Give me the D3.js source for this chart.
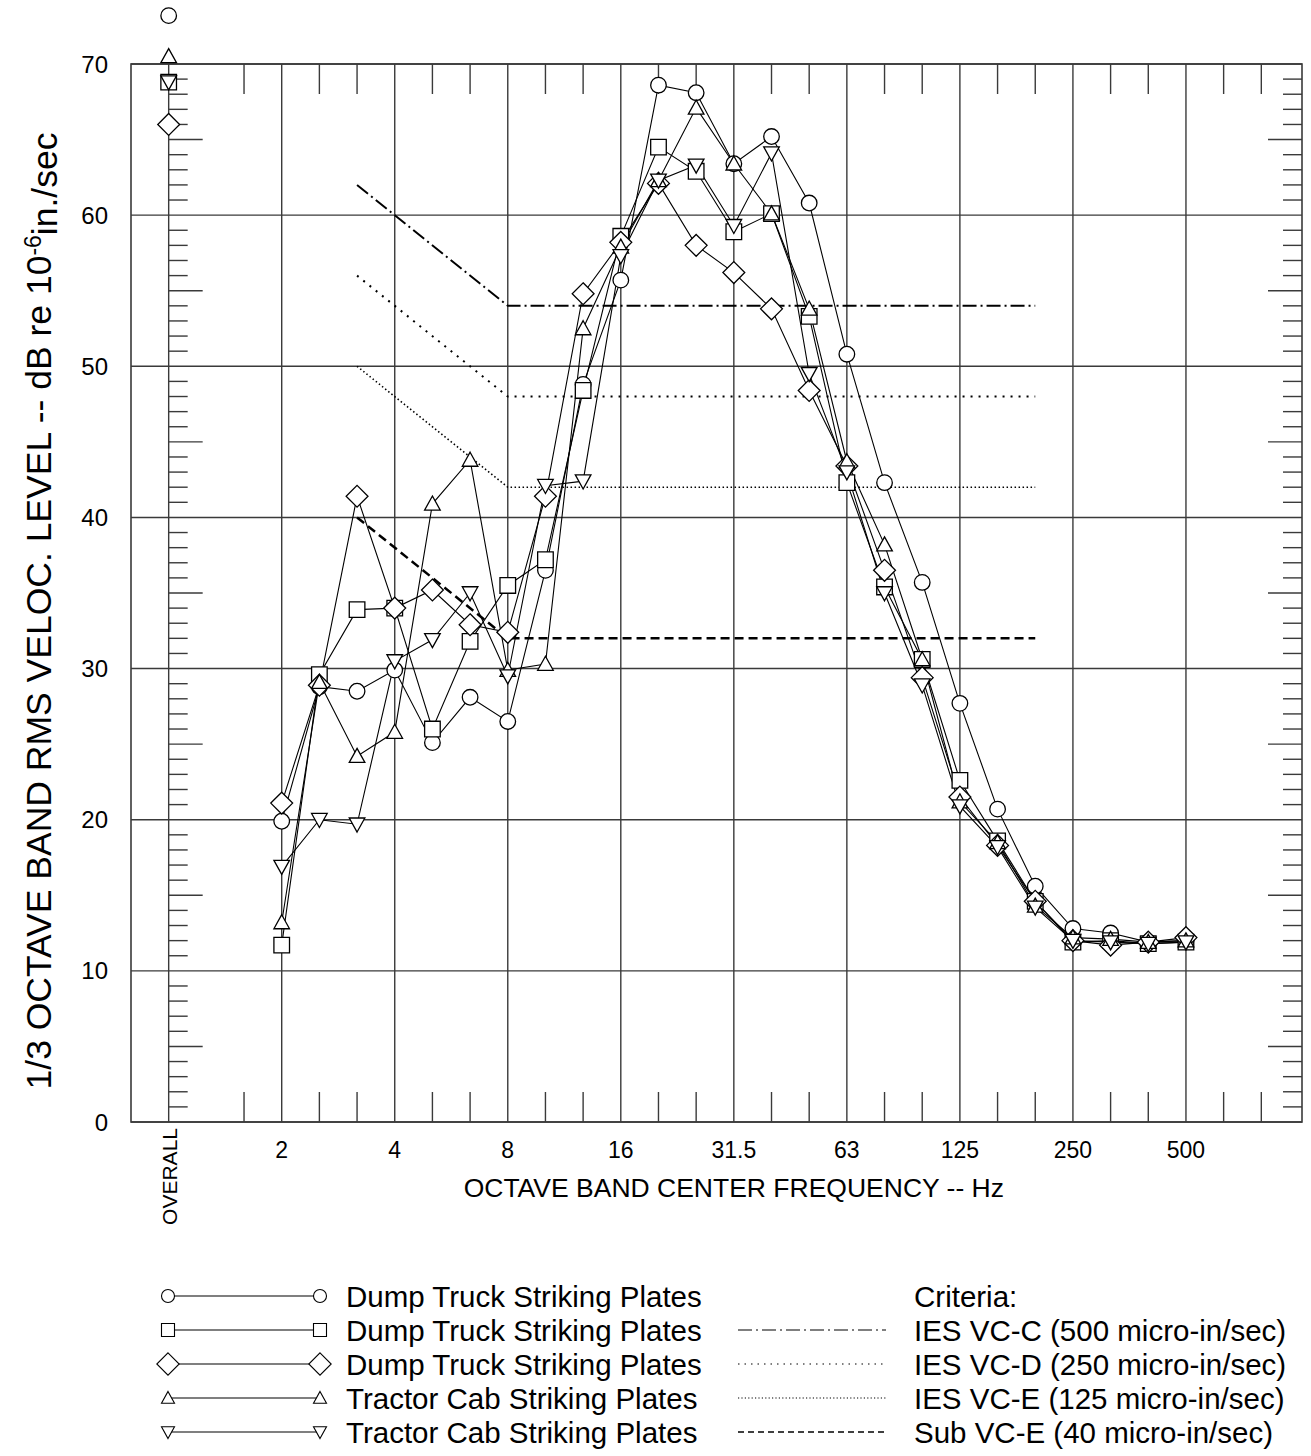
<!DOCTYPE html>
<html>
<head>
<meta charset="utf-8">
<script src="https://cdn.jsdelivr.net/npm/d3@7"></script>
<style>
  body { margin: 0; background: #fff; }
  svg text { font-family: "Liberation Sans", Arial, sans-serif; fill: #000; }
</style>
</head>
<body>
<div id="chart"></div>
<script>
// 1/3 octave band centres (Hz), plotted one step apart
var bands = ["2","2.5","3.15","4","5","6.3","8","10","12.5","16","20","25","31.5","40","50","63","80","100","125","160","200","250","315","400","500"];
var octaveLabels = ["2","4","8","16","31.5","63","125","250","500"];
var yTicks = [0,10,20,30,40,50,60,70];

var seriesNames = ["Dump Truck Striking Plates","Dump Truck Striking Plates","Dump Truck Striking Plates","Tractor Cab Striking Plates","Tractor Cab Striking Plates"];
var seriesSymbols = ["circle","square","diamond","triUp","triDown"];
var overallValues = [73.2, 68.8, 66.0, 70.5, 68.8];

var dumpTruckA = [19.9,28.8,28.5,29.9,25.1,28.1,26.5,36.5,48.8,55.7,68.6,68.1,63.4,65.2,60.8,50.8,42.3,35.7,27.7,20.7,15.6,12.8,12.5,11.9,12.0];
var dumpTruckB = [11.7,29.6,33.9,34.0,26.0,31.8,35.5,37.2,48.4,58.6,64.5,62.9,58.9,60.1,53.3,42.3,35.4,30.6,22.6,18.6,14.6,11.9,12.0,11.8,11.9];
var dumpTruckC = [21.1,28.9,41.4,34.0,35.2,32.9,32.4,41.4,54.8,58.2,62.1,58.0,56.2,53.8,48.4,43.4,36.5,29.4,21.5,18.3,14.6,12.0,11.7,11.9,12.2];
var tractorCabA = [13.2,29.1,24.2,25.8,40.9,43.8,29.9,30.3,52.5,57.9,62.3,67.1,63.4,60.1,53.8,43.7,38.2,30.6,21.2,18.5,14.3,12.2,12.1,11.9,12.0];
var tractorCabB = [16.9,20.0,19.7,30.5,31.9,35.0,29.5,42.1,42.4,57.3,62.3,63.3,59.3,64.1,49.5,43.0,35.0,28.9,20.9,18.2,14.2,12.0,11.9,11.8,11.9];
var seriesValues = [dumpTruckA, dumpTruckB, dumpTruckC, tractorCabA, tractorCabB];

// criteria curves
var criteriaBands = ["3.15","8","200"];
var criteriaNames = ["IES VC-C (500 micro-in/sec)","IES VC-D (250 micro-in/sec)","IES VC-E (125 micro-in/sec)","Sub VC-E (40 micro-in/sec)"];
var vcC = [62,54,54];
var vcD = [56,48,48];
var vcE = [50,42,42];
var subVcE = [40,32,32];
var criteriaValues = [vcC, vcD, vcE, subVcE];
var criteriaDash = ["14,4,2,4", "2,6", "1.5,2.5", "9,5"];
var criteriaWidth = [2, 2, 1.6, 2.5];

var W = 1311, H = 1456;
var margin = {top: 64, left: 131, right: 9, bottom: 334};
var plotW = W - margin.left - margin.right,
    plotH = H - margin.top - margin.bottom;

var svg = d3.select("#chart").append("svg")
    .attr("width", W).attr("height", H);

var g = svg.append("g").attr("transform", "translate(" + margin.left + "," + margin.top + ")");

// x in band-index units; OVERALL sits 3 steps left of 2 Hz
var OVERALL_IDX = -3;
var x = d3.scaleLinear().domain([-4, 27.08]).range([0, plotW]);
var y = d3.scaleLinear().domain([0, 70]).range([plotH, 0]);
var bx = function(b) { return x(bands.indexOf(b)); };

var gridColor = "#3a3a3a";

// horizontal grid
g.selectAll(".hgrid").data(yTicks).enter().append("line")
    .attr("x1", 0).attr("x2", plotW)
    .attr("y1", function(d) { return y(d); }).attr("y2", function(d) { return y(d); })
    .attr("stroke", gridColor).attr("stroke-width", 1.4);

// full vertical lines at octave centres and at OVERALL
var fullIdx = octaveLabels.map(function(o) { return bands.indexOf(o); }).concat([OVERALL_IDX]);
g.selectAll(".vgrid").data(fullIdx).enter().append("line")
    .attr("x1", function(d) { return x(d); }).attr("x2", function(d) { return x(d); })
    .attr("y1", 0).attr("y2", plotH)
    .attr("stroke", gridColor).attr("stroke-width", 1.4);

// 1/3 octave ticks top and bottom
var thirdIdx = d3.range(-1, 27).filter(function(i) { return fullIdx.indexOf(i) < 0; });
thirdIdx.forEach(function(i) {
    g.append("line").attr("x1", x(i)).attr("x2", x(i)).attr("y1", 0).attr("y2", 30)
        .attr("stroke", gridColor).attr("stroke-width", 1.4);
    g.append("line").attr("x1", x(i)).attr("x2", x(i)).attr("y1", plotH - 30).attr("y2", plotH)
        .attr("stroke", gridColor).attr("stroke-width", 1.4);
});

// 1 dB ticks on the OVERALL line and on the right frame
d3.range(1, 70).filter(function(v) { return v % 10 !== 0; }).forEach(function(v) {
    var len = v % 5 === 0 ? 34 : 19;
    g.append("line").attr("x1", x(OVERALL_IDX)).attr("x2", x(OVERALL_IDX) + len)
        .attr("y1", y(v)).attr("y2", y(v)).attr("stroke", gridColor).attr("stroke-width", 1.4);
    g.append("line").attr("x1", plotW - len).attr("x2", plotW)
        .attr("y1", y(v)).attr("y2", y(v)).attr("stroke", gridColor).attr("stroke-width", 1.4);
});

// frame
g.append("rect").attr("width", plotW).attr("height", plotH)
    .attr("fill", "none").attr("stroke", gridColor).attr("stroke-width", 1.6);

// y labels
g.selectAll(".ylab").data(yTicks).enter().append("text")
    .attr("x", -23).attr("y", function(d) { return y(d); }).attr("dy", "0.36em")
    .attr("text-anchor", "end").style("font-size", "24px")
    .text(function(d) { return d; });

// x labels
g.selectAll(".xlab").data(octaveLabels).enter().append("text")
    .attr("x", function(d) { return bx(d); }).attr("y", plotH + 28).attr("dy", "0.36em")
    .attr("text-anchor", "middle").style("font-size", "23px")
    .text(function(d) { return d; });

g.append("text")
    .attr("transform", "translate(" + (x(OVERALL_IDX) + 8) + "," + (plotH + 6) + ") rotate(-90)")
    .attr("text-anchor", "end").style("font-size", "21px")
    .text("OVERALL");

g.append("text")
    .attr("x", bx("31.5")).attr("y", plotH + 65).attr("dy", "0.36em")
    .attr("text-anchor", "middle").style("font-size", "26.5px")
    .text("OCTAVE BAND CENTER FREQUENCY -- Hz");

// y title with superscript
var yt = svg.append("text")
    .attr("transform", "translate(51,611) rotate(-90)")
    .attr("text-anchor", "middle").style("font-size", "35.5px");
yt.append("tspan").text("1/3 OCTAVE BAND RMS VELOC. LEVEL -- dB re 10");
yt.append("tspan").attr("dy", "-0.45em").style("font-size", "23px").text("-6");
yt.append("tspan").attr("dy", "0.45em").text("in./sec");

// criteria lines
var critLine = d3.line().x(function(d) { return bx(d[0]); }).y(function(d) { return y(d[1]); });
criteriaValues.forEach(function(vals, k) {
    g.append("path")
        .datum(d3.zip(criteriaBands, vals))
        .attr("d", critLine)
        .attr("fill", "none").attr("stroke", "#000")
        .attr("stroke-width", criteriaWidth[k])
        .attr("stroke-dasharray", criteriaDash[k]);
});

// marker shapes
function symbolPath(type, s) {
    switch (type) {
        case "circle":
            return "M" + (-s) + ",0A" + s + "," + s + " 0 1,0 " + s + ",0A" + s + "," + s + " 0 1,0 " + (-s) + ",0Z";
        case "square":
            return "M" + (-s) + "," + (-s) + "H" + s + "V" + s + "H" + (-s) + "Z";
        case "diamond":
            var d = s * 1.4;
            return "M0," + (-d) + "L" + d + ",0L0," + d + "L" + (-d) + ",0Z";
        case "triUp":
            return "M0," + (-s * 1.0) + "L" + s + "," + (s * 0.8) + "L" + (-s) + "," + (s * 0.8) + "Z";
        case "triDown":
            return "M0," + (s * 1.0) + "L" + s + "," + (-s * 0.8) + "L" + (-s) + "," + (-s * 0.8) + "Z";
    }
}

var dataLine = d3.line().x(function(d, i) { return x(i); }).y(function(d) { return y(d); });

seriesValues.forEach(function(vals, k) {
    g.append("path").datum(vals).attr("d", dataLine)
        .attr("fill", "none").attr("stroke", "#000").attr("stroke-width", 1.1);
});
seriesValues.forEach(function(vals, k) {
    g.selectAll(".m" + k).data(vals).enter().append("path")
        .attr("transform", function(d, i) { return "translate(" + x(i) + "," + y(d) + ")"; })
        .attr("d", symbolPath(seriesSymbols[k], 7.8))
        .attr("fill", "#fff").attr("stroke", "#000").attr("stroke-width", 1.3);
});
// OVERALL points
overallValues.forEach(function(v, k) {
    g.append("path")
        .attr("transform", "translate(" + x(OVERALL_IDX) + "," + y(v) + ")")
        .attr("d", symbolPath(seriesSymbols[k], 7.8))
        .attr("fill", k === 4 ? "none" : "#fff").attr("stroke", "#000").attr("stroke-width", 1.3);
});

// legend
var legY0 = 1296, legStep = 34;
var leg = svg.append("g");
seriesNames.forEach(function(name, k) {
    var ly = legY0 + k * legStep;
    var ls = seriesSymbols[k] === "diamond" ? 8 : 6.5;
    leg.append("line").attr("x1", 168).attr("x2", 320).attr("y1", ly).attr("y2", ly)
        .attr("stroke", "#000").attr("stroke-width", 1.1);
    [168, 320].forEach(function(px) {
        leg.append("path").attr("transform", "translate(" + px + "," + ly + ")")
            .attr("d", symbolPath(seriesSymbols[k], ls))
            .attr("fill", "#fff").attr("stroke", "#000").attr("stroke-width", 1.1);
    });
    leg.append("text").attr("x", 346).attr("y", ly).attr("dy", "0.36em")
        .style("font-size", "29.5px").text(name);
});
leg.append("text").attr("x", 914).attr("y", legY0).attr("dy", "0.36em")
    .style("font-size", "29.5px").text("Criteria:");
criteriaNames.forEach(function(name, k) {
    var ly = legY0 + (k + 1) * legStep;
    leg.append("line").attr("x1", 738).attr("x2", 886).attr("y1", ly).attr("y2", ly)
        .attr("stroke", "#000").attr("stroke-width", k === 3 ? 1.5 : 1.2)
        .attr("stroke-dasharray", k === 0 ? "14,4,2,4" : k === 1 ? "1.5,5" : k === 2 ? "1.2,2.2" : "6,4");
    leg.append("text").attr("x", 914).attr("y", ly).attr("dy", "0.36em")
        .style("font-size", "29.5px").text(name);
});
</script>
</body>
</html>
